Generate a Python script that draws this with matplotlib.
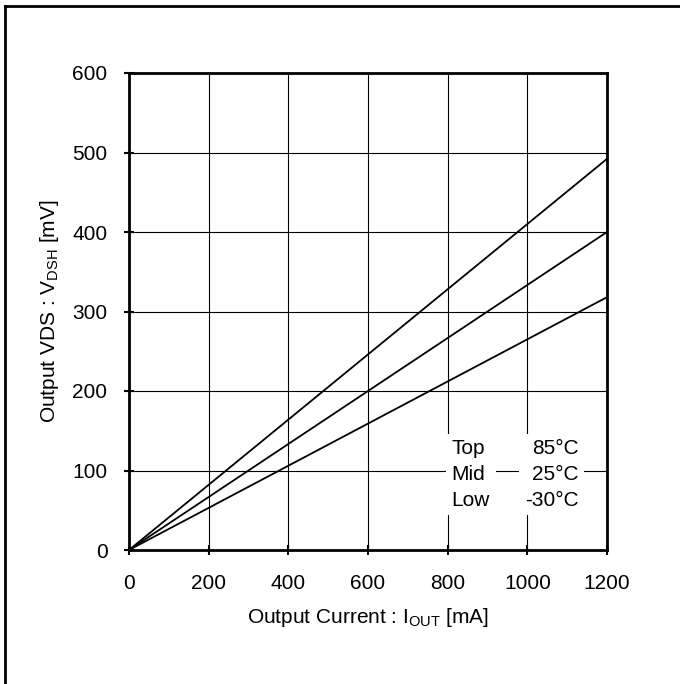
import numpy as np
import matplotlib
matplotlib.use('Agg')
import matplotlib.pyplot as plt
from matplotlib.lines import Line2D

plt.rcParams['font.family'] = ['Liberation Sans', 'DejaVu Sans']
plt.rcParams['mathtext.fontset'] = 'custom'
plt.rcParams['mathtext.rm'] = 'Liberation Sans'
plt.rcParams['mathtext.default'] = 'regular'

# data
current_ma = [0, 1200]
vds_85c = [0, 492]
vds_25c = [0, 400]
vds_m30c = [0, 318]
x_ticks = [0, 200, 400, 600, 800, 1000, 1200]
y_ticks = [0, 100, 200, 300, 400, 500, 600]
row_names = ['Top', 'Mid', 'Low']
row_temps = ['85°C', '25°C', '-30°C']

fig = plt.figure(figsize=(6.8, 6.84), dpi=100)
ax = fig.add_axes([129/680, 134/684, 478/680, 477/684])

for vals in (vds_85c, vds_25c, vds_m30c):
    ax.plot(current_ma, vals, color='black', lw=1.3, zorder=3)

ax.set_xlim(0, 1200)
ax.set_ylim(0, 600)
ax.set_xticks(x_ticks)
ax.set_yticks(y_ticks)
ax.grid(True, color='black', lw=0.8)
ax.set_axisbelow(True)
for s in ax.spines.values():
    s.set_linewidth(2)
ax.tick_params(direction='inout', length=7, width=1.5, labelsize=15)
ax.tick_params(axis='x', pad=14)
ax.tick_params(axis='y', pad=12)

ax.set_xlabel(r'Output Current : I$_{OUT}$ [mA]', fontsize=15, labelpad=9)
ax.set_ylabel(r'Output VDS : V$_{DSH}$ [mV]', fontsize=15, labelpad=8)

box = dict(facecolor='white', edgecolor='none', pad=4)
ax.text(810, 95, '\n'.join(row_names), ha='left', va='center', fontsize=15,
        linespacing=1.45, bbox=box, zorder=4)
ax.text(1128, 95, '\n'.join(row_temps), ha='right', va='center', fontsize=15,
        linespacing=1.45, multialignment='right', bbox=box, zorder=4)

# outer frame (left and top visible)
fig.add_artist(Line2D([5/680, 5/680], [0, 1 - 6/684], color='black', lw=2, transform=fig.transFigure))
fig.add_artist(Line2D([5/680, 1], [1 - 6/684, 1 - 6/684], color='black', lw=2, transform=fig.transFigure))

fig.savefig('out.png', dpi=100)
